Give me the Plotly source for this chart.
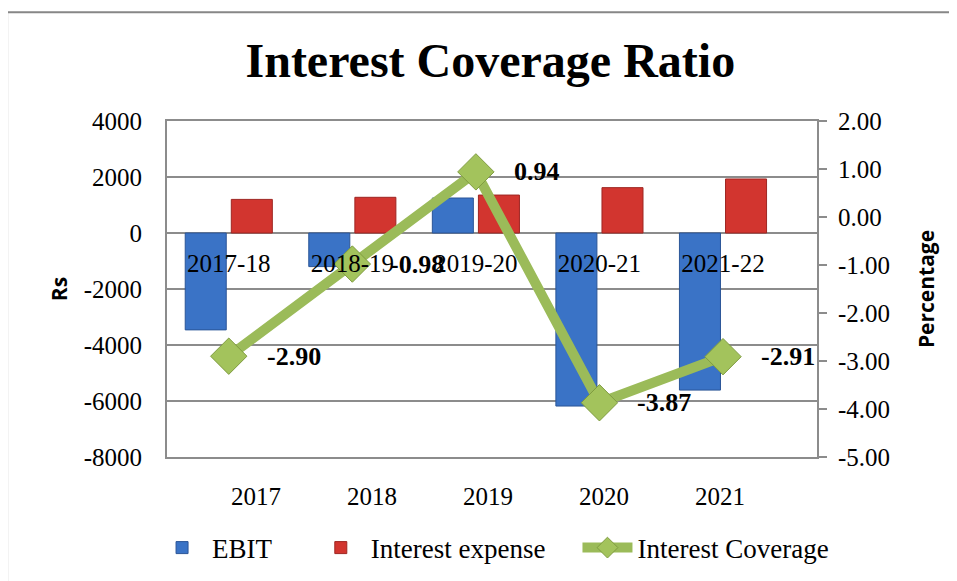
import plotly.graph_objects as go

periods = ["2017-18", "2018-19", "2019-20", "2020-21", "2021-22"]
years = ["2017", "2018", "2019", "2020", "2021"]
ebit = [-3460, -1200, 1250, -6180, -5610]
interest_expense = [1200, 1275, 1355, 1620, 1930]
interest_coverage = [-2.90, -0.98, 0.94, -3.87, -2.91]

rs_ticks = [4000, 2000, 0, -2000, -4000, -6000, -8000]
pct_ticks = [2.00, 1.00, 0.00, -1.00, -2.00, -3.00, -4.00, -5.00]

SERIF = "Liberation Serif, Times New Roman, serif"
SANS = "Open Sans, Liberation Sans, sans-serif"
GRID = "#8C8C8C"
NB = "\u00a0"

fig = go.Figure()
fig.add_trace(go.Bar(
    name="EBIT" + NB * 5, x=periods, y=ebit, xaxis="x", yaxis="y",
    marker=dict(color="#3A73C6", line=dict(color="#2A5597", width=1)),
))
fig.add_trace(go.Bar(
    name="Interest expense" + NB * 4, x=periods, y=interest_expense, xaxis="x", yaxis="y",
    marker=dict(color="#D2352F", line=dict(color="#9E2622", width=1)),
))
fig.add_trace(go.Scatter(
    name="Interest Coverage", x=periods, y=interest_coverage, xaxis="x", yaxis="y2",
    mode="lines+markers",
    line=dict(color="#9BBB59", width=10),
    marker=dict(symbol="diamond", size=28, color="#A3C35C",
                line=dict(color="#7F9C40", width=1)),
))
# helper trace carrying the bottom year axis
fig.add_trace(go.Scatter(
    x=list(range(len(years))), y=[0] * len(years), xaxis="x2", yaxis="y",
    mode="markers", marker=dict(opacity=0), showlegend=False, hoverinfo="skip",
))

for p, v in zip(periods, interest_coverage):
    fig.add_annotation(
        x=p, y=v, xref="x", yref="y2", text=f"{v:.2f}", showarrow=False,
        xanchor="left", yanchor="middle", xshift=36,
        font=dict(family=SERIF, size=26, color="black", weight="bold"),
    )

fig.update_layout(
    width=957, height=581, autosize=False,
    margin=dict(l=159, r=148, t=113, b=132, autoexpand=False),
    paper_bgcolor="white", plot_bgcolor="white",
    title=dict(text="<b>Interest Coverage Ratio</b>", x=0.504, xanchor="center",
               y=0.91, yanchor="middle",
               font=dict(family=SERIF, size=48, color="black")),
    barmode="group", bargap=0.254, bargroupgap=0.11,
    xaxis=dict(
        type="category", anchor="free", position=0.6667, automargin=False,
        showline=False, showgrid=False, ticks="",
        tickfont=dict(family=SERIF, size=25, color="black"),
        ticklabelstandoff=13,
    ),
    xaxis2=dict(
        overlaying="x", anchor="y", side="bottom", automargin=False,
        range=[-0.767, 4.836], tickmode="array",
        tickvals=list(range(len(years))), ticktext=years,
        showgrid=False, zeroline=False, ticks="",
        showline=True, mirror=True, linecolor=GRID, linewidth=2,
        tickfont=dict(family=SERIF, size=25, color="black"),
        ticklabelstandoff=16,
    ),
    yaxis=dict(
        range=[-8000, 4000], automargin=False,
        tickmode="array", tickvals=rs_ticks, ticktext=[str(t) for t in rs_ticks],
        showgrid=True, gridcolor=GRID, gridwidth=1.5,
        zeroline=True, zerolinecolor=GRID, zerolinewidth=1.5,
        showline=True, linecolor=GRID, linewidth=2, ticks="",
        tickfont=dict(family=SERIF, size=25, color="black"),
        ticklabelstandoff=18,
        title=dict(text="<b>Rs</b>", standoff=10,
                   font=dict(family=SANS, size=21, color="black")),
    ),
    yaxis2=dict(
        overlaying="y", side="right", anchor="x", automargin=False,
        range=[-5, 2],
        tickmode="array", tickvals=pct_ticks, ticktext=[f"{t:.2f}" for t in pct_ticks],
        showgrid=False, zeroline=False,
        showline=True, linecolor=GRID, linewidth=2,
        ticks="outside", ticklen=8, tickcolor=GRID, tickwidth=2,
        tickfont=dict(family=SERIF, size=25, color="black"),
        ticklabelstandoff=6,
        title=dict(text="<b>Percentage</b>", standoff=30,
                   font=dict(family=SANS, size=21, color="black")),
    ),
    legend=dict(
        orientation="h", x=-0.023, xanchor="left", y=-0.271, yanchor="middle",
        font=dict(family=SERIF, size=27, color="black"),
        bgcolor="rgba(0,0,0,0)", itemwidth=50,
    ),
    showlegend=True,
)

# outer chart frame
fig.add_shape(type="rect", xref="paper", yref="paper",
              x0=-0.246, x1=1.5, y0=-0.6, y1=1.324,
              line=dict(color="#878787", width=2), fillcolor="rgba(0,0,0,0)",
              layer="below")

fig.write_html("out.html")
